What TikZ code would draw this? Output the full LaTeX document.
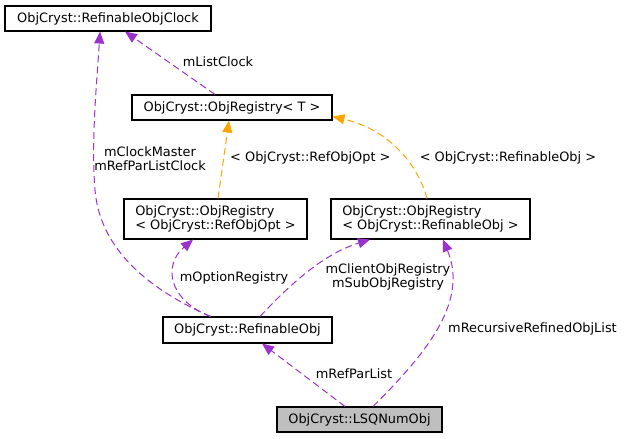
\documentclass[tikz,border=0pt]{standalone}
\usepackage{fontspec}
\setmainfont{DejaVu Sans}
\usetikzlibrary{arrows.meta,calc}
\definecolor{edgepurple}{HTML}{9A32CD}
\definecolor{edgeorange}{HTML}{FFA500}
\definecolor{fillgray}{HTML}{BFBFBF}
\begin{document}
\begin{tikzpicture}[x=1pt,y=-1pt,
  every node/.style={font=\fontsize{12.9}{14}\selectfont, inner sep=0pt},
  cls/.style={draw=black, line width=1.1pt, fill=white, rectangle},
  lbl/.style={align=center},
  purp/.style={draw=edgepurple, dash pattern=on 7pt off 4pt, line width=1pt,
    -{Triangle[length=12pt,width=10pt,fill=edgepurple]}},
  orng/.style={draw=edgeorange, dash pattern=on 7pt off 4pt, line width=1pt,
    -{Triangle[length=12pt,width=10pt,fill=edgeorange]}}]
\useasboundingbox (0,0) rectangle (625,439);
\fill[white] (0,0) rectangle (625,439);

\node[cls, minimum width=206pt, minimum height=25pt] (clock) at (108,18.5) {ObjCryst::RefinableObjClock};
\node[cls, minimum width=200pt, minimum height=25pt] (reg) at (232,107.5) {ObjCryst::ObjRegistry< T >};
\node[cls, minimum width=183pt, minimum height=40pt, align=left] (opt) at (215.5,219) {ObjCryst::ObjRegistry\\< ObjCryst::RefObjOpt >};
\node[cls, minimum width=199pt, minimum height=40pt, align=left] (rob) at (430.5,219) {ObjCryst::ObjRegistry\\< ObjCryst::RefinableObj >};
\node[cls, minimum width=169pt, minimum height=26pt] (ref) at (247.5,330) {ObjCryst::RefinableObj};
\node[cls, fill=fillgray, minimum width=165pt, minimum height=25pt] (lsq) at (359.5,419.5) {ObjCryst::LSQNumObj};

% ref -> clock
\draw[purp] ($(ref.north)+(-37,0)$) .. controls (150,290) and (100,250) .. (95,190)
   .. controls (91,140) and (97,80) .. ($(clock.south)+(-8,0)$);
\node[lbl] (l1) at (150,159) {mClockMaster\\mRefParListClock};
% reg -> clock
\draw[purp] ($(reg.north)+(-17,0)$) -- ($(clock.south)+(17,0)$);
\node[lbl] (l2) at (218,62) {mListClock};
% opt -> reg
\draw[orng] ($(opt.north)+(2.5,0)$) -- ($(reg.south)+(-3,0)$);
\node[anchor=west] (l3) at (230,158) {< ObjCryst::RefObjOpt >};
% rob -> reg
\draw[orng] ($(rob.north)+(-3.5,0)$) .. controls (418,165) and (390,130) .. ($(reg.east)+(0,9)$);
\node[lbl] (l4) at (508,158) {< ObjCryst::RefinableObj >};
% ref -> opt
\draw[purp] ($(ref.north)+(-37,0)$) .. controls (168,300) and (163,265) .. ($(opt.south)+(-22.5,0)$);
\node[lbl] (l5) at (234,278) {mOptionRegistry};
% ref -> rob
\draw[purp] ($(ref.north)+(12.5,0)$) .. controls (285,290) and (320,255) .. ($(rob.south)+(-60.5,0)$);
\node[lbl] (l6) at (388,277) {mClientObjRegistry\\mSubObjRegistry};
% lsq -> ref
\draw[purp] ($(lsq.north)+(-14.5,0)$) -- ($(ref.south)+(14.5,0)$);
\node[lbl] (l7) at (354,374) {mRefParList};
% lsq -> rob
\draw[purp] ($(lsq.north)+(13.5,0)$) .. controls (430,350) and (468,300) .. ($(rob.south)+(12.5,0)$);
\node[anchor=west] (l8) at (448,329) {mRecursiveRefinedObjList};
\end{tikzpicture}
\end{document}
